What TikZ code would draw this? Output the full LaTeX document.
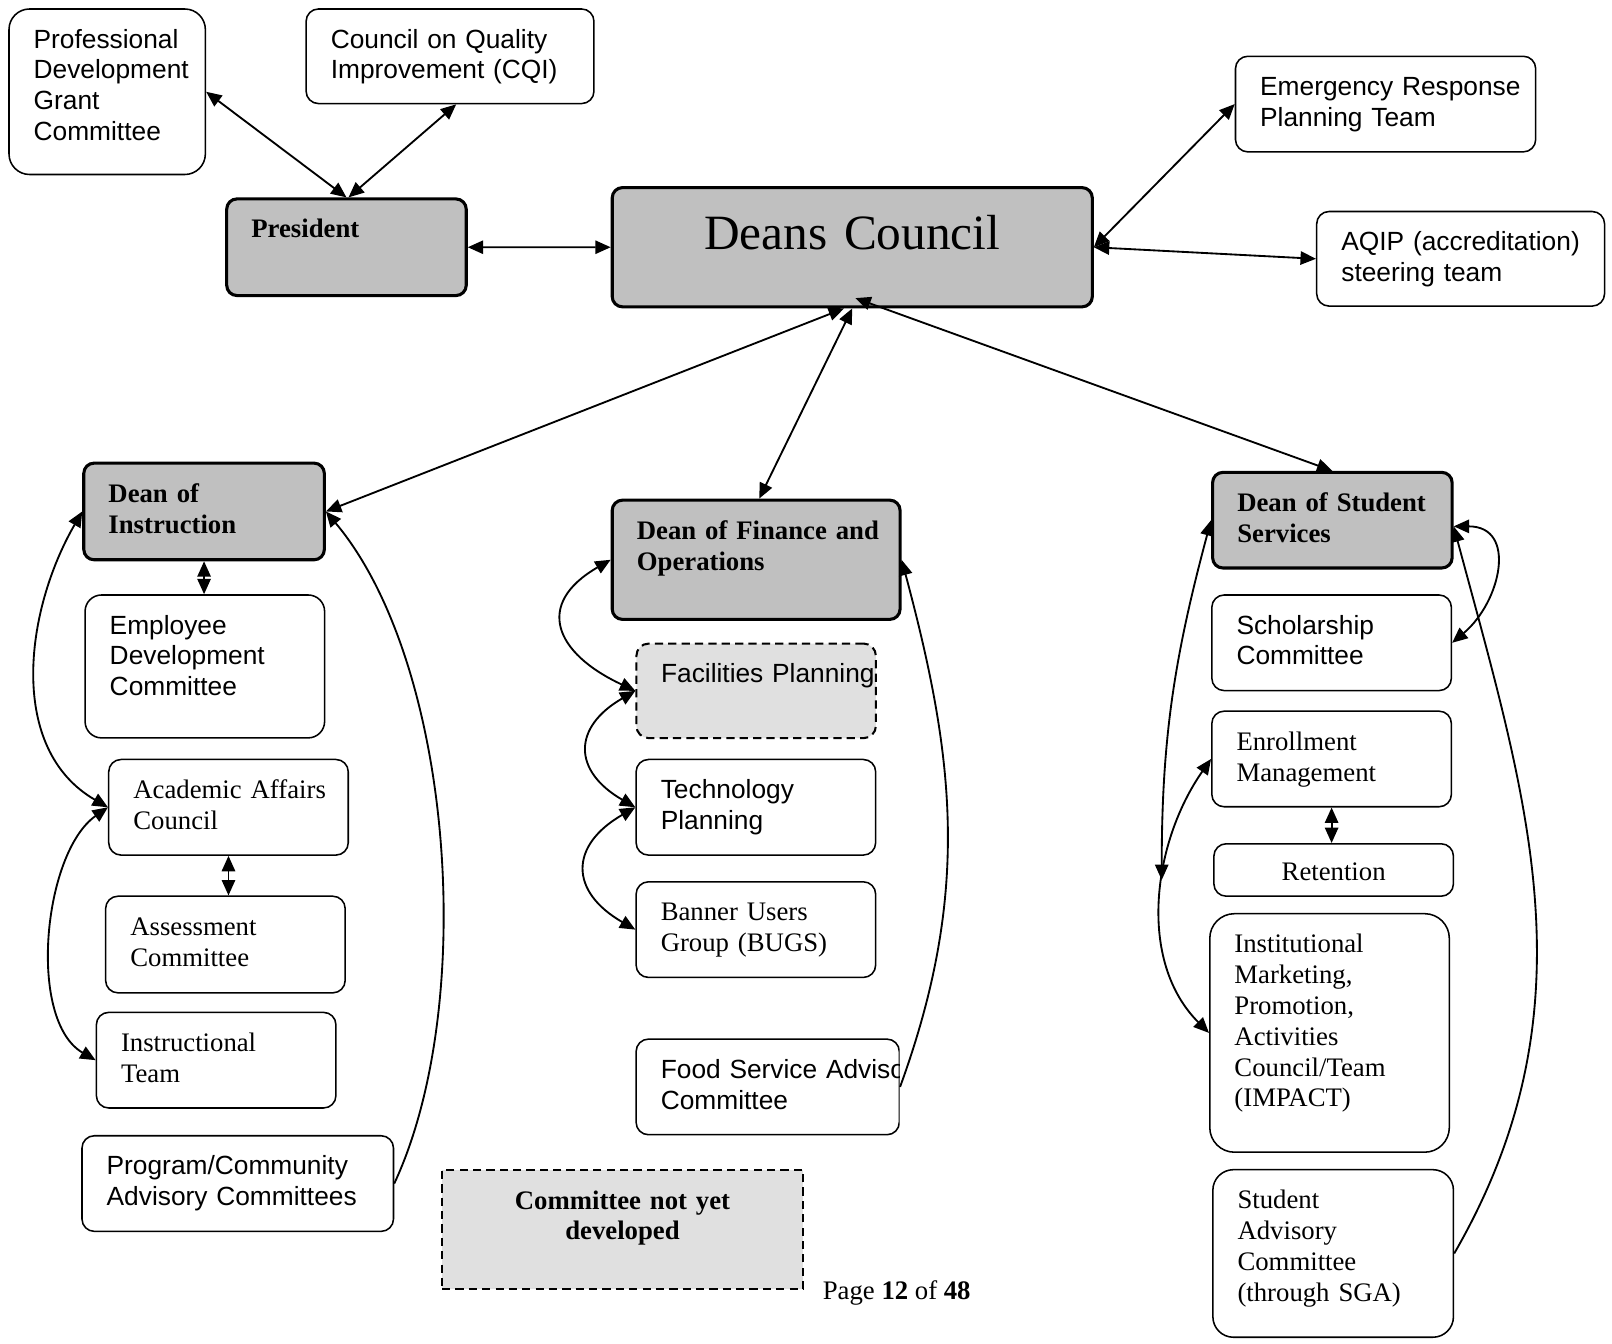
\documentclass[tikz,border=0pt]{standalone}
\usepackage{fontspec}
\setmainfont{Liberation Serif}
\newfontfamily\arialfont{Liberation Sans}
\usetikzlibrary{arrows.meta}
\hyphenpenalty=10000
\exhyphenpenalty=10000
\definecolor{officefill}{HTML}{C0C0C0}
\definecolor{pendingfill}{HTML}{E0E0E0}
\tikzset{
  committee/.style={
    draw=black, line width=0.75pt, fill=white, rounded corners=6pt,
    anchor=north west, align=left, inner xsep=12pt, inner ysep=10pt, text height=9pt
  },
  office/.style={committee, fill=officefill, line width=1.5pt, rounded corners=5pt,
    font=\fontsize{13}{15}\selectfont\bfseries},
  pending/.style={committee, fill=pendingfill, line width=1pt, dash pattern=on 4pt off 2.5pt},
  sanstext/.style={font=\arialfont\fontsize{12.8}{15}\selectfont},
  seriftext/.style={font=\fontsize{13}{15}\selectfont},
  link/.style={line width=0.9pt, {Triangle[length=7.5pt,width=6.5pt]}-{Triangle[length=7.5pt,width=6.5pt]}},
  feed/.style={line width=0.9pt, -{Triangle[length=7.5pt,width=6.5pt]}}
}

\begin{document}
\begin{tikzpicture}[x=50pt,y=50pt]
\path[use as bounding box, fill=white] (0,0) rectangle (15.68,13.07);

% top row
\node[committee, sanstext, rounded corners=10pt, text width=71.5pt, text depth=51.5pt] (pdgc) at (0.08,12.99) {Professional\\Development\\Grant\\Committee};
\node[committee, sanstext, text width=116pt, text depth=17pt] (cqi) at (2.97,12.99) {Council~on~Quality\\Improvement~(CQI)};
\node[office, text width=92.5pt, text depth=18pt] (pres) at (2.19,11.15) {President};
\node[office, font=\fontsize{24}{28}\selectfont, align=center, text width=209.5pt, text height=20pt, text depth=18pt] (deans) at (5.94,11.26) {Deans Council};
\node[committee, sanstext, text width=122pt, text depth=17.5pt] (erpt) at (12.01,12.53) {Emergency~Response\\Planning Team};
\node[committee, sanstext, text width=116pt, text depth=17pt] (aqip) at (12.80,11.02) {AQIP~(accreditation)\\steering team};

% instruction
\node[office, text width=93pt, text depth=18pt] (doi) at (0.80,8.58) {Dean of\\Instruction};
\node[committee, sanstext, rounded corners=8pt, text width=92.5pt, text depth=40.5pt] (edc) at (0.82,7.29) {Employee\\Development\\Committee};
\node[committee, seriftext, text width=92.5pt, text depth=17.5pt] (aac) at (1.05,5.69) {Academic~Affairs\\Council};
\node[committee, seriftext, text width=92.5pt, text depth=18pt] (assess) at (1.02,4.36) {Assessment\\Committee};
\node[committee, seriftext, text width=92.5pt, text depth=17.5pt] (iteam) at (0.93,3.23) {Instructional\\Team};
\node[committee, sanstext, text width=127.5pt, text depth=17.5pt] (pcac) at (0.79,2.03) {Program/Community\\Advisory~Committees};

% finance and operations
\node[office, text width=116pt, text depth=29pt] (dfo) at (5.94,8.22) {Dean~of~Finance~and\\Operations};
\node[pending, sanstext, text width=92.5pt, text depth=17pt] (facil) at (6.18,6.82) {Facilities~Planning};
\node[committee, sanstext, text width=92.5pt, text depth=17.5pt] (tech) at (6.18,5.69) {Technology\\Planning};
\node[committee, seriftext, text width=92.5pt, text depth=17.5pt] (bugs) at (6.18,4.50) {Banner Users\\Group (BUGS)};
\begin{scope}
  \clip (6.10,3.05) rectangle (8.75,1.85);
  \node[committee, sanstext, text width=104pt, text depth=17.5pt] (food) at (6.18,2.97) {Food~Service~Advisory\\Committee};
\end{scope}
\node[pending, sharp corners, font=\fontsize{13}{15}\selectfont\bfseries, align=center, text width=151.5pt, text depth=29pt] (notyet) at (4.29,1.70) {Committee not yet\\developed};

% student services
\node[office, text width=92.5pt, text depth=17.5pt] (doss) at (11.78,8.49) {Dean~of~Student\\Services};
\node[committee, sanstext, text width=92.5pt, text depth=17.5pt] (schol) at (11.78,7.29) {Scholarship\\Committee};
\node[committee, seriftext, text width=92.5pt, text depth=17.5pt] (enroll) at (11.78,6.16) {Enrollment\\Management};
\node[committee, seriftext, align=center, text width=92.5pt, inner ysep=4pt, text height=14pt, text depth=3.5pt] (reten) at (11.80,4.87) {Retention};
\node[committee, seriftext, rounded corners=12pt, text width=92.5pt, text depth=87pt] (impact) at (11.76,4.19) {Institutional\\Marketing,\\Promotion,\\Activities\\Council/Team\\(IMPACT)};
\node[committee, seriftext, rounded corners=10pt, text width=93pt, text depth=52.5pt] (sac) at (11.79,1.70) {Student\\Advisory\\Committee\\(through SGA)};

\node[seriftext, anchor=base west, inner sep=0pt] (pageno) at (8.00,0.43) {Page \textbf{12} of \textbf{48}};

% council links
\draw[link] (pdgc.east) -- (pres.north);
\draw[link] ([xshift=3pt]cqi.south) -- ([xshift=1pt]pres.north);
\draw[link] (pres) -- (deans);
\draw[link] (deans.east) -- (erpt.west);
\draw[link] (deans.east) -- (aqip.west);
\draw[link] ([xshift=-4pt]deans.south) -- (doi.east);
\draw[link] (deans.south) -- ([xshift=1.5pt]dfo.north);
\draw[link] ([xshift=1.5pt,yshift=5pt]deans.south) -- (doss.north);

% instruction links
\draw[link] (doi.south) -- (doi.south |- edc.north);
\draw[link] (aac.south) -- (aac.south |- assess.north);
\draw[link] (doi.west) to[out=240,in=150] (aac.west);
\draw[link] (aac.west) to[out=215,in=150,looseness=0.8] (iteam.west);
\draw[feed] (pcac.east) to[out=65,in=-50,looseness=0.75] (doi.east);

% finance links
\draw[link] (dfo.west) to[out=210,in=155,looseness=1.7] (facil.west);
\draw[link] (facil.west) to[out=210,in=150,looseness=1.6] (tech.west);
\draw[link] (tech.west) to[out=210,in=150,looseness=1.6] (bugs.west);
\draw[feed] (food.east) to[out=70,in=-75] (dfo.east);

% student services links
\coordinate (junction) at (11.30,4.51);
\draw[link] (enroll.south) -- (enroll.south |- reten.north);
\draw[link] ([yshift=-3pt]doss.east) to[out=0,in=40,looseness=1.4] (schol.east);
\draw[feed] (sac.east) to[out=60,in=-75] ([yshift=-3pt]doss.east);
\draw[link] (doss.west) to[out=255,in=90] (junction);
\draw[link] (enroll.west) to[out=235,in=135,looseness=0.95] (impact.west);
\end{tikzpicture}
\end{document}
